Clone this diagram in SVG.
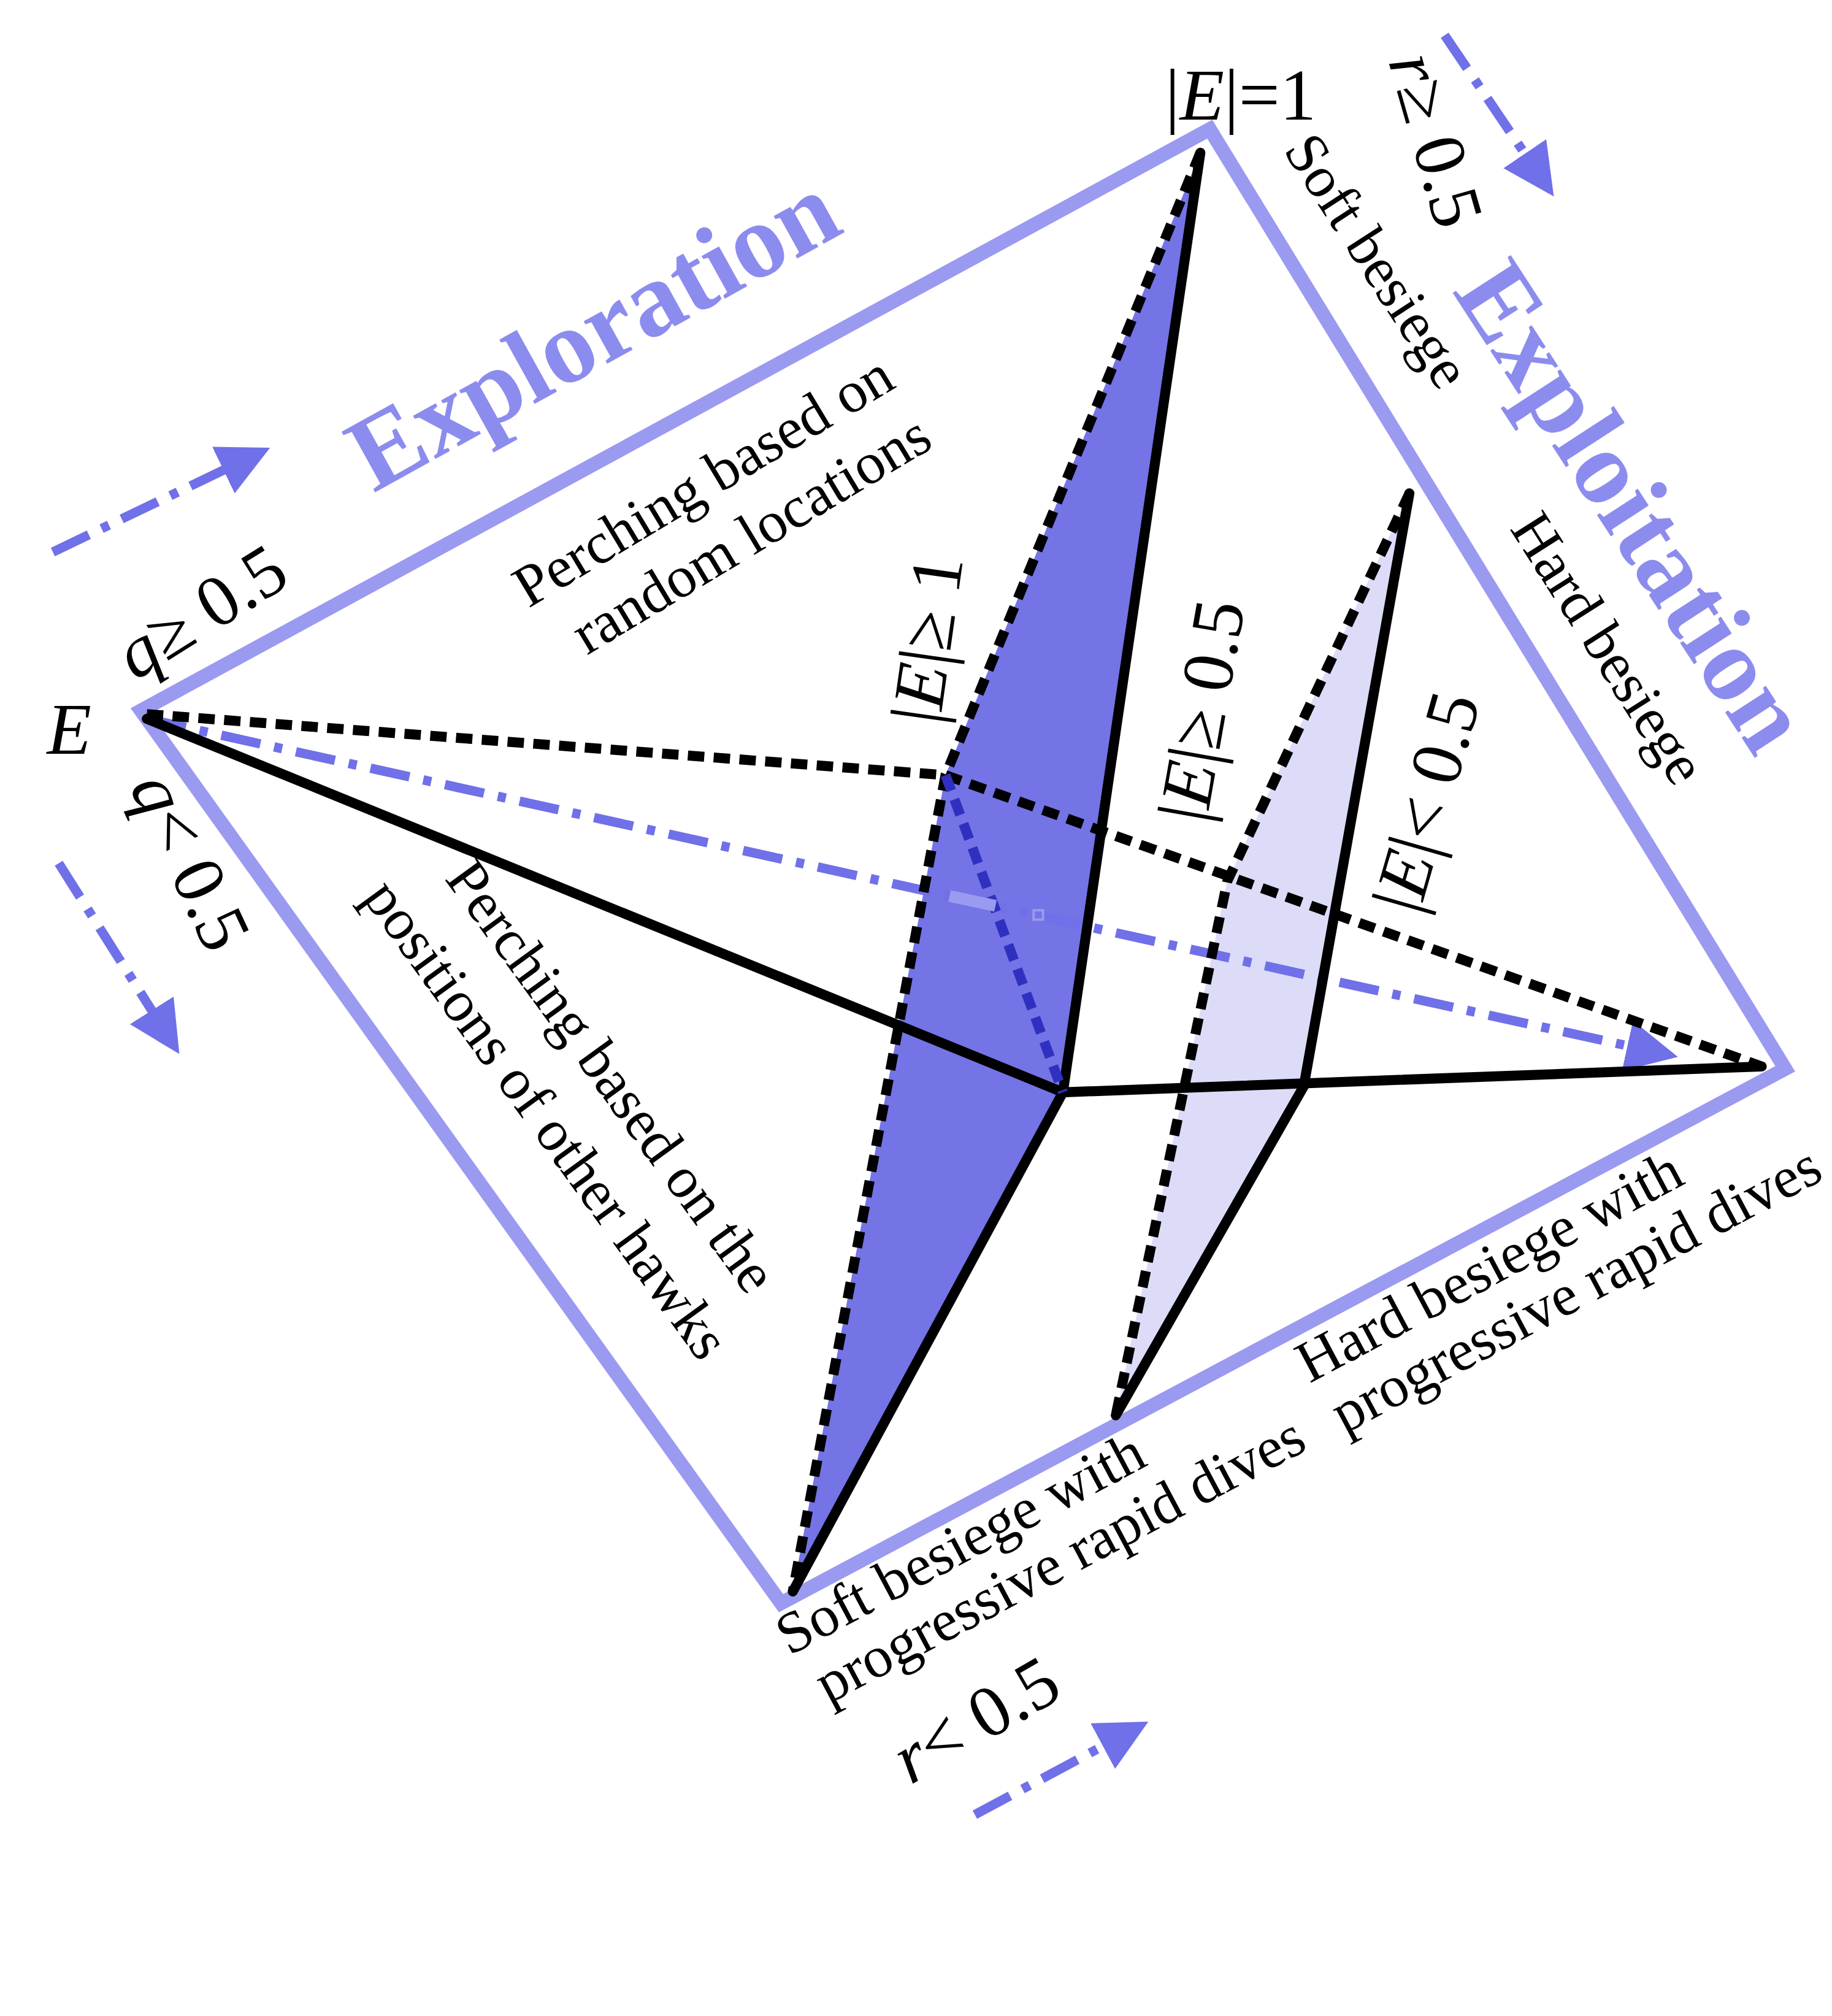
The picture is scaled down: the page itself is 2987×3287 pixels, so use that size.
<svg xmlns="http://www.w3.org/2000/svg" width="2987" height="3287" viewBox="0 0 2987 3287">
<defs>
<style>
.fr{fill:none;stroke:#9a9af0;stroke-width:12}
.s{fill:none;stroke:#000;stroke-width:8.5;stroke-linecap:round}
.d{fill:none;stroke:#000;stroke-width:8.5;stroke-dasharray:14 8}
.bd{fill:none;stroke:#7070e8;stroke-width:8;stroke-dasharray:34 12 7 12}
.t{font-family:"Liberation Serif",serif;font-size:50px;fill:#000}
.m{font-family:"Liberation Serif",serif;font-size:62px;fill:#000}
.big{font-family:"Liberation Serif",serif;font-size:90px;font-weight:bold;fill:#8c8cee}
</style>
<marker id="ah" viewBox="0 0 10 10" refX="8" refY="5" markerWidth="5.5" markerHeight="5.5" orient="auto"><path d="M0,0L10,5L0,10z" fill="#7070e8"/></marker>
</defs>
<rect width="2987" height="3287" fill="#fff"/>
<g transform="scale(1.915)">
<g id="fills">
<polygon points="1022,130 805,660 675,1355 905,930" fill="#7474e6"/>
<polygon points="1200,420 1045,750 950,1205 1110,925" fill="#dcdcf8"/>
</g>
<g id="frame"><polygon class="fr" points="120,605 1030,110 1520,910 665,1365"/></g>
<g id="connectors">
<path class="bd" d="M125,612 L1420,898" marker-end="url(#ah)"/>
<path class="d" d="M125,608 L805,660 L1500,908"/>
<path class="s" d="M125,612 L905,930 L1500,908"/>
<path class="d" d="M1022,130 L805,660 L675,1355"/>
<path class="s" d="M1022,130 L905,930 L675,1355"/>
<path d="M805,660 L905,930" fill="none" stroke="#3030c0" stroke-width="8.5" stroke-dasharray="14 8"/>
<path class="d" d="M1200,420 L1045,750 L950,1205"/>
<path class="s" d="M1200,420 L1110,925 L950,1205"/>
<rect x="808" y="762" width="40" height="10" fill="#9a9af0" transform="rotate(12 828 767)"/>
<rect x="880" y="775" width="8" height="8" fill="none" stroke="#9a9af0" stroke-width="2"/>
<path class="bd" d="M45,470 L222,385" marker-end="url(#ah)"/>
<path class="bd" d="M50,735 L148,890" marker-end="url(#ah)"/>
<path class="bd" d="M1230,30 L1318,160" marker-end="url(#ah)"/>
<path class="bd" d="M830,1545 L970,1470" marker-end="url(#ah)"/>
</g>
<g id="labels">
<text class="big" transform="translate(318,420) rotate(-29)">Exploration</text>
<text class="big" transform="translate(1236,248) rotate(57)">Exploitation</text>
<g transform="translate(450,518) rotate(-31)"><text class="t">Perching based on</text><text class="t" x="22" y="60">random locations</text></g>
<g transform="translate(378,748) rotate(54)"><text class="t">Perching based on the</text><text class="t" x="-28" y="66">positions of other hawks</text></g>
<text class="t" transform="translate(1092,128) rotate(57)">Soft besiege</text>
<text class="t" transform="translate(1285,450) rotate(57.5)">Hard besiege</text>
<g transform="translate(672,1410) rotate(-28)"><text class="t">Soft besiege with</text><text class="t" x="10" y="52">progressive rapid dives</text></g>
<g transform="translate(1115,1178) rotate(-28)"><text class="t">Hard besiege with</text><text class="t" x="6" y="52">progressive rapid dives</text></g>
<text class="m" transform="translate(800,618) rotate(-82)">|<tspan font-style="italic">E</tspan>|≥ 1</text>
<text class="m" transform="translate(1027,702) rotate(-80)">|<tspan font-style="italic">E</tspan>|≥ 0.5</text>
<text class="m" transform="translate(1208,780) rotate(-74)">|<tspan font-style="italic">E</tspan>|&lt; 0.5</text>
<text class="m" x="992" y="102">|<tspan font-style="italic">E</tspan>|=1</text>
<text class="m" transform="translate(1182,52) rotate(74)"><tspan font-style="italic">r</tspan>≥ 0.5</text>
<text class="m" x="40" y="642" font-style="italic">E</text>
<text class="m" transform="translate(115,580) rotate(-32)"><tspan font-style="italic">q</tspan>≥ 0.5</text>
<text class="m" transform="translate(110,670) rotate(65)"><tspan font-style="italic">q</tspan>&lt; 0.5</text>
<text class="m" transform="translate(775,1520) rotate(-30)"><tspan font-style="italic">r</tspan>&lt; 0.5</text>
</g>
</g>
</svg>
